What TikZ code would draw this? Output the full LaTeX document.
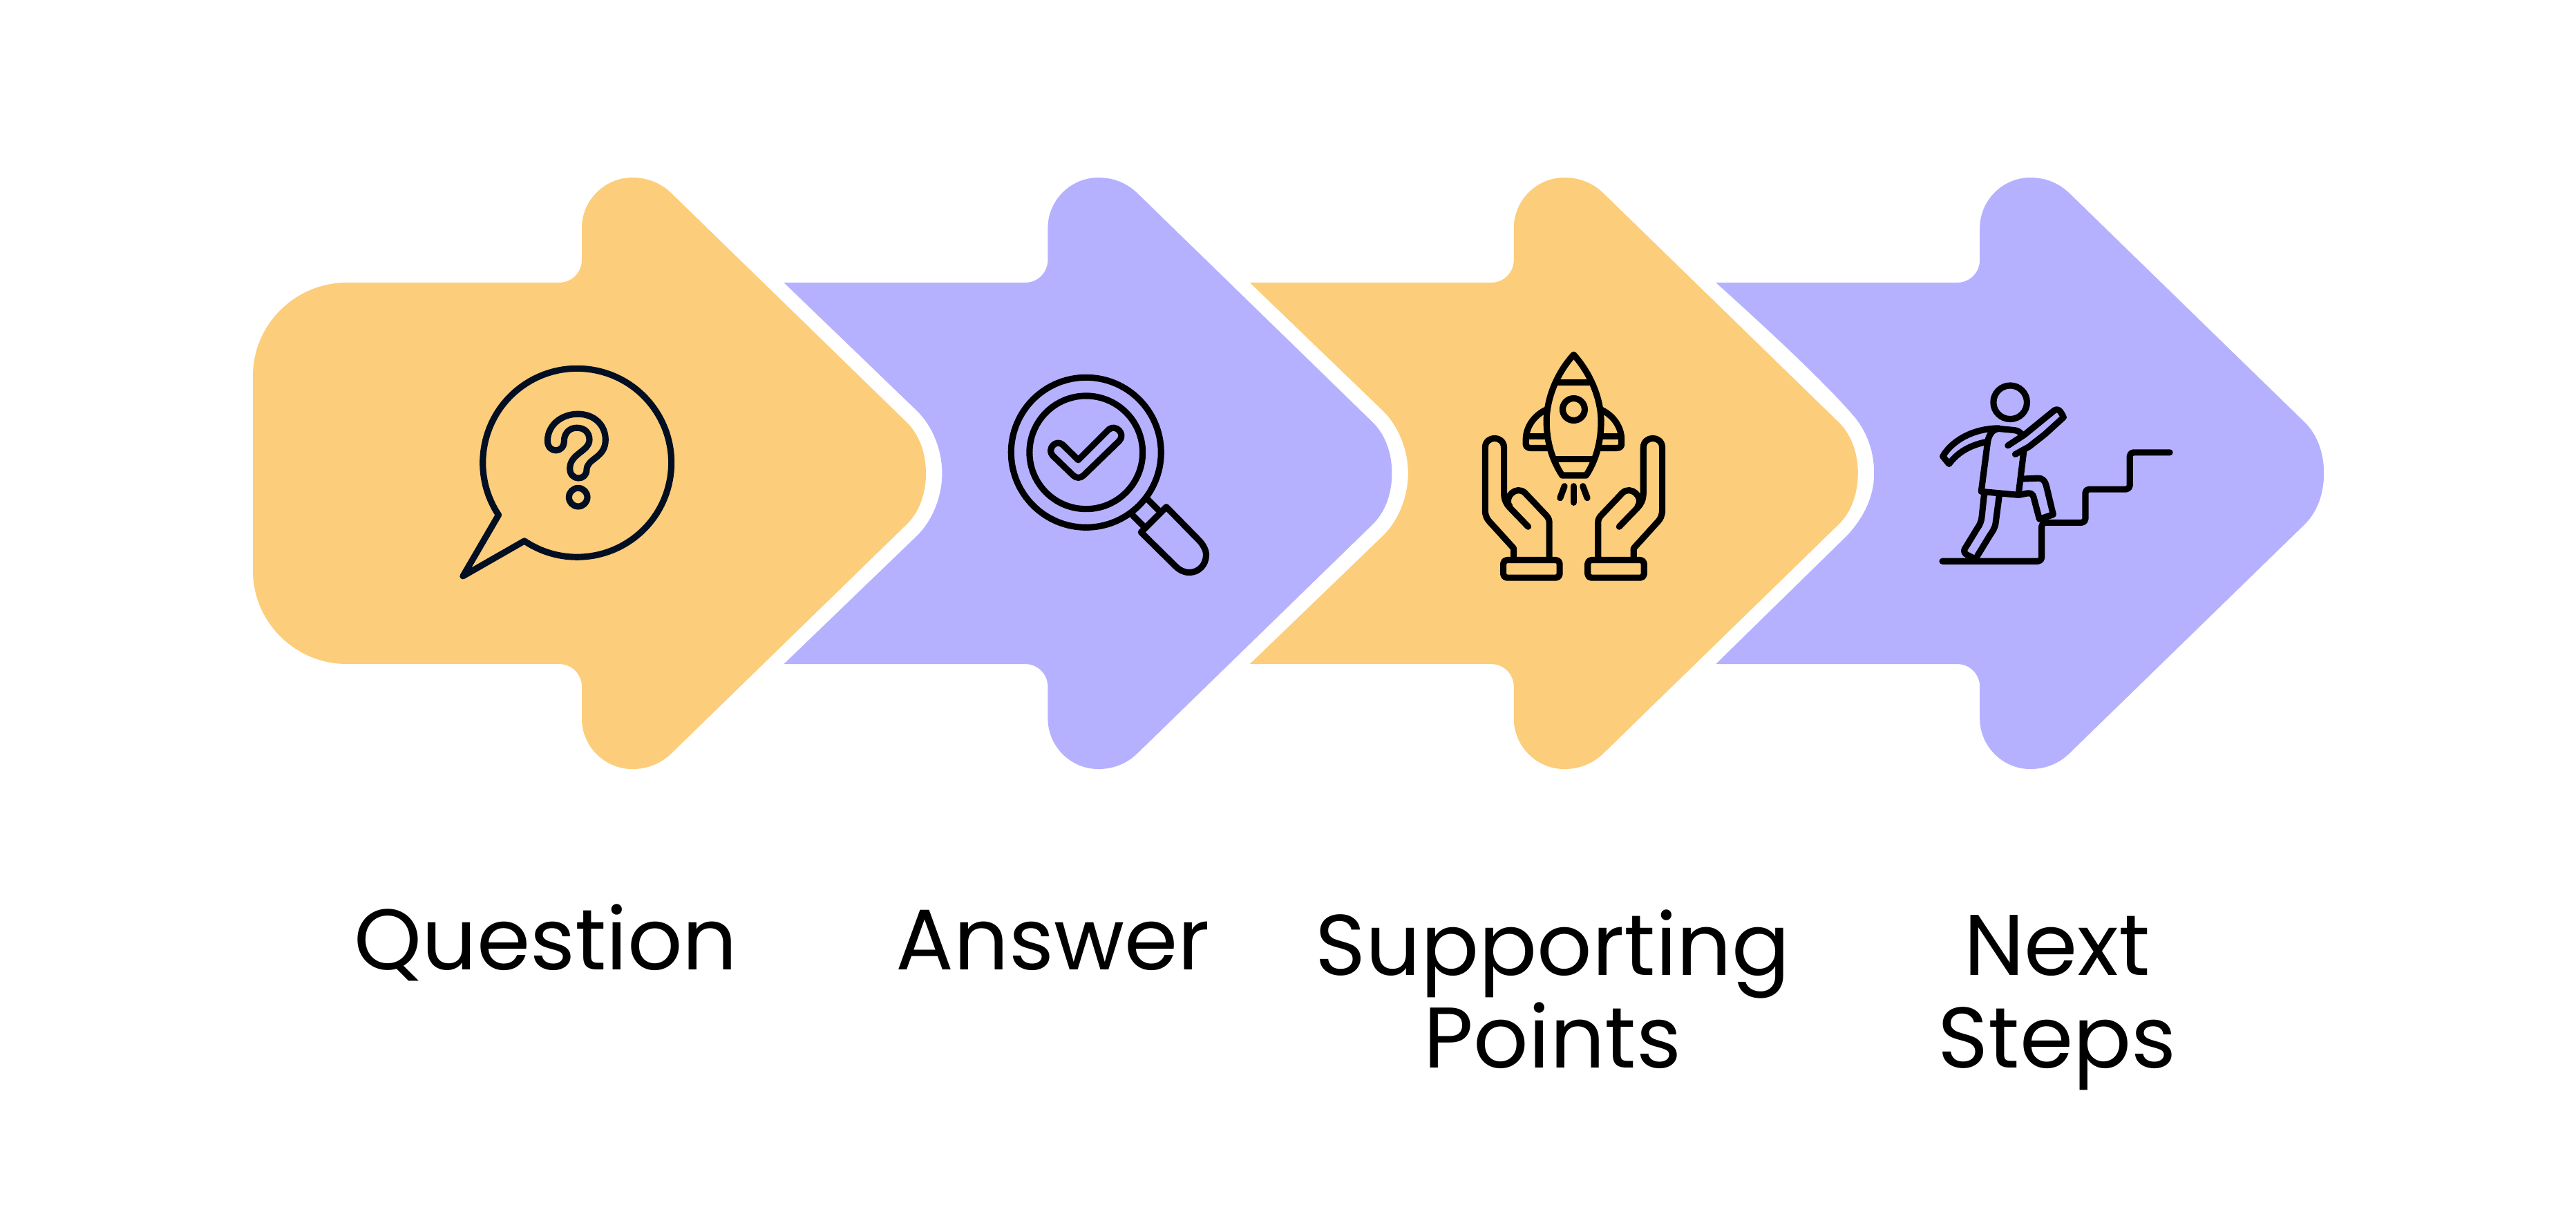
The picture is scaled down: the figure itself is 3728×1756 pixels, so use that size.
\documentclass[tikz,border=0pt]{standalone}
\usepackage{fontspec}
\setmainfont{Poppins}
\definecolor{headorange}{HTML}{FCCD7B}
\definecolor{headpurple}{HTML}{B6B1FF}
\definecolor{inkblue}{HTML}{020F22}
\newcommand{\headpart}{-- (809,409) .. controls (828,409) and (842,394) .. (842,376) -- (842,330)
    .. controls (842,290) and (875,257) .. (915,257) .. controls (936,257) and (955,264) .. (971,279)
    -- (1311,610) .. controls (1330,628) and (1340,655) .. (1340,685)
    .. controls (1340,715) and (1330,742) .. (1311,760) -- (971,1091)
    .. controls (955,1106) and (936,1113) .. (915,1113) .. controls (875,1113) and (842,1080) .. (842,1040)
    -- (842,994) .. controls (842,976) and (828,961) .. (809,961)}
\tikzset{
    steplabel/.style={font=\fontsize{35.4}{38.1}\selectfont, align=center, anchor=base},
    iconline/.style={line width=2.6pt, line cap=round, line join=round},
    iconcoords/.style={x=0.003333cm, y=-0.003333cm}
}

\begin{document}
\begin{tikzpicture}[x=0.01cm, y=-0.01cm]
    \useasboundingbox (0, 0) rectangle (3728, 1756);
    % arrows
    \fill[headorange] (502, 409) \headpart -- (502, 961) .. controls (427, 961) and (366, 900) .. (366, 826)
        -- (366, 544) .. controls (366, 470) and (427, 409) .. (502, 409) -- cycle;
    \foreach \i/\c in {1/headpurple, 2/headorange} {
        \fill[\c, xshift=\i*6.74cm] (460, 409) \headpart -- (460, 961) -- (652, 776)
            .. controls (674, 755) and (689, 720) .. (689, 685)
            .. controls (689, 650) and (674, 615) .. (652, 594) -- cycle;
    }
    \fill[headpurple, xshift=20.22cm] (460, 409) \headpart -- (460, 961) -- (650, 775)
        .. controls (675, 748) and (689, 718) .. (689, 685)
        .. controls (689, 655) and (680, 628) .. (662, 605)
        .. controls (620, 555) and (530, 472) .. (460, 409) -- cycle;

    % question
    \begin{scope}[shift={(640, 500)}, iconcoords, iconline, inkblue]
        \draw (245, 737) arc[start angle=146.4, end angle=484, radius=410] -- (90, 1003) -- cycle;
        \draw (458, 415) .. controls (458, 345) and (520, 298) .. (590, 298)
            .. controls (660, 298) and (710, 345) .. (710, 410)
            .. controls (710, 490) and (630, 490) .. (628, 540)
            .. controls (628, 590) and (555, 590) .. (555, 535)
            .. controls (555, 470) and (640, 460) .. (640, 410)
            .. controls (640, 380) and (620, 358) .. (585, 358)
            .. controls (550, 358) and (530, 385) .. (530, 415)
            .. controls (530, 470) and (458, 470) .. (458, 415) -- cycle;
        \draw (591, 660) circle[radius=40];
    \end{scope}

    % answer
    \begin{scope}[shift={(1420, 520)}, iconcoords, iconline]
        \draw (456, 405) circle[radius=326];
        \draw (456, 405) circle[radius=246];
        \draw (422, 438) -- (555, 305) .. controls (585, 280) and (630, 325) .. (600, 355)
            -- (445, 505) .. controls (430, 518) and (415, 518) .. (400, 505)
            -- (310, 418) .. controls (285, 390) and (325, 345) .. (355, 372) -- cycle;
        \draw (725, 610) -- (770, 655);
        \draw (660, 680) -- (710, 730);
        \draw (695, 752) -- (805, 642) -- (945, 785) .. controls (965, 805) and (978, 830) .. (978, 850)
            .. controls (978, 895) and (945, 927) .. (905, 927)
            .. controls (880, 927) and (860, 915) .. (845, 900) -- cycle;
    \end{scope}

    % supporting points
    \begin{scope}[shift={(2120, 490)}, iconcoords, iconline]
        \draw (473, 70) .. controls (400, 150) and (355, 260) .. (355, 360)
            .. controls (355, 450) and (380, 530) .. (423, 595) -- (527, 595)
            .. controls (570, 530) and (592, 450) .. (592, 360)
            .. controls (592, 260) and (545, 150) .. (473, 70) -- cycle;
        \draw (405, 190) -- (540, 190);
        \draw (395, 525) -- (552, 525);
        \draw (473, 308) circle[radius=48];
        \draw (473, 642) -- (473, 713);
        \foreach \side in {1, -1} {
            \begin{scope}[shift={(473, 0)}, xscale=\side, shift={(-473, 0)}]
                \draw (352, 310) .. controls (300, 335) and (265, 385) .. (265, 440) -- (265, 460)
                    .. controls (265, 470) and (275, 476) .. (285, 476) -- (365, 476);
                \draw (275, 424) -- (355, 424);
                \draw (433, 642) -- (414, 693);
                \draw[rounded corners=1.5pt] (167, 963) rectangle (412, 1040);
                \draw (212, 955) -- (212, 912) -- (115, 805) .. controls (95, 785) and (88, 770) .. (88, 745)
                    -- (88, 475) .. controls (88, 420) and (170, 420) .. (170, 475) -- (170, 670)
                    .. controls (170, 700) and (180, 720) .. (195, 735) -- (275, 818);
                \draw (367, 955) -- (367, 800) .. controls (367, 785) and (360, 775) .. (350, 765)
                    -- (262, 672) .. controls (225, 635) and (165, 690) .. (195, 730);
            \end{scope}
        }
    \end{scope}

    % next steps
    \begin{scope}[shift={(2780, 530)}, iconcoords, iconline]
        \draw (388, 157) circle[radius=73];
        \draw[rounded corners=1.5pt] (93, 848) -- (525, 848) -- (525, 680) -- (715, 680) -- (715, 535)
            -- (908, 535) -- (908, 375) -- (1082, 375);
        \draw (425, 560) -- (262, 545) -- (290, 330) .. controls (295, 295) and (315, 272) .. (340, 272)
            -- (405, 278) .. controls (420, 280) and (430, 285) .. (440, 298);
        \draw (425, 550) -- (447, 370);
        \draw (378, 345) -- (450, 298) -- (580, 192) .. controls (595, 183) and (605, 190) .. (620, 222)
            -- (540, 295) -- (470, 350) -- (410, 383);
        \draw (340, 270) .. controls (220, 270) and (130, 330) .. (95, 392) -- (122, 425)
            .. controls (160, 375) and (210, 345) .. (280, 330);
        \draw (275, 555) -- (265, 650) .. controls (262, 680) and (255, 690) .. (245, 705) -- (190, 795)
            .. controls (185, 805) and (190, 815) .. (200, 820) -- (240, 840);
        \draw (340, 565) -- (325, 680) .. controls (322, 705) and (310, 720) .. (300, 735) -- (245, 825);
        \draw (440, 490) -- (510, 487) .. controls (530, 487) and (540, 500) .. (545, 520) -- (575, 645)
            -- (515, 665) -- (490, 570) .. controls (487, 555) and (475, 550) .. (460, 553) -- (425, 560);
    \end{scope}

    % labels
    \node[steplabel] (question) at (790, 1403) {Question};
    \node[steplabel] (answer) at (1524, 1403) {Answer};
    \node[steplabel] (points) at (2247, 1545) {Supporting\\Points};
    \node[steplabel] (next) at (2977, 1545) {Next\\Steps};
\end{tikzpicture}
\end{document}
